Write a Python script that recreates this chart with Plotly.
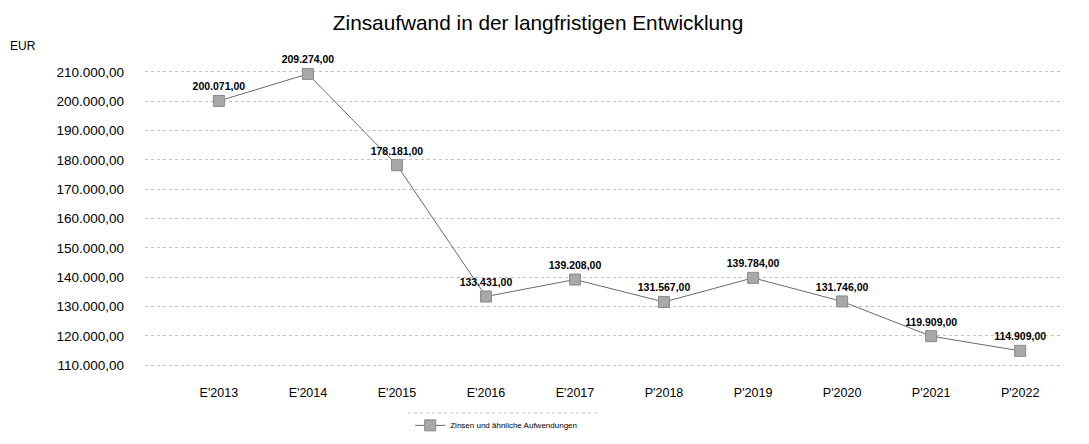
import plotly.graph_objects as go

categories = ["E'2013", "E'2014", "E'2015", "E'2016", "E'2017", "P'2018", "P'2019", "P'2020", "P'2021", "P'2022"]
values = [200071, 209274, 178181, 133431, 139208, 131567, 139784, 131746, 119909, 114909]
series_name = "Zinsen und ähnliche Aufwendungen"
y_ticks = [110000, 120000, 130000, 140000, 150000, 160000, 170000, 180000, 190000, 200000, 210000]

def de(v):
    s = f"{v:,.2f}"
    return s.replace(",", "X").replace(".", ",").replace("X", ".")

fig = go.Figure()
fig.add_trace(go.Scatter(
    x=list(range(len(categories))), y=values, mode="lines+markers+text",
    name=series_name,
    text=["<b>" + de(v) + "</b>" for v in values], textposition="top center",
    textfont=dict(family="Liberation Sans, Arial", size=10.5, color="#000000"),
    line=dict(color="#6a6a6a", width=1),
    marker=dict(symbol="square", size=11, color="#a8a8a8", line=dict(color="#8a8a8a", width=1)),
    cliponaxis=False,
))

fig.update_layout(
    width=1089, height=444,
    paper_bgcolor="white", plot_bgcolor="white",
    margin=dict(l=137, r=35, t=55, b=75, autoexpand=False),
    title=dict(text="Zinsaufwand in der langfristigen Entwicklung", x=0.4867, xanchor="center",
               y=0.966, yanchor="middle",
               font=dict(family="Liberation Sans, Arial", size=20.8, color="#000000")),
    font=dict(family="Liberation Sans, Arial", size=11, color="#000000"),
    separators=",.",
    showlegend=True,
    legend=dict(orientation="h", x=0.383, xanchor="center", yref="container", y=0.06, yanchor="middle",
                font=dict(size=8), bgcolor="rgba(0,0,0,0)"),
    xaxis=dict(range=[-0.83, 9.47], tickvals=list(range(len(categories))), ticktext=categories,
               showgrid=False, zeroline=False, showline=False, ticks="", tickfont=dict(size=12.5),
               ticklabelstandoff=6, automargin=False),
    yaxis=dict(range=[106000, 213000], tickvals=y_ticks, tickformat=",.2f",
               showgrid=True, gridcolor="#c0c0c0", griddash="dot", gridwidth=1,
               zeroline=False, showline=False, ticks="", ticklabelstandoff=20,
               tickfont=dict(size=13.5), automargin=False),
    annotations=[dict(text="EUR", xref="paper", yref="paper", x=-0.149, y=1.054,
                      xanchor="left", yanchor="middle", showarrow=False, font=dict(size=12))],
    shapes=[dict(type="line", xref="paper", yref="paper", x0=0.287, x1=0.493, y0=-0.1146, y1=-0.1146,
                 line=dict(color="#c0c0c0", width=1, dash="dot"))],
)

fig.write_html("out.html")
